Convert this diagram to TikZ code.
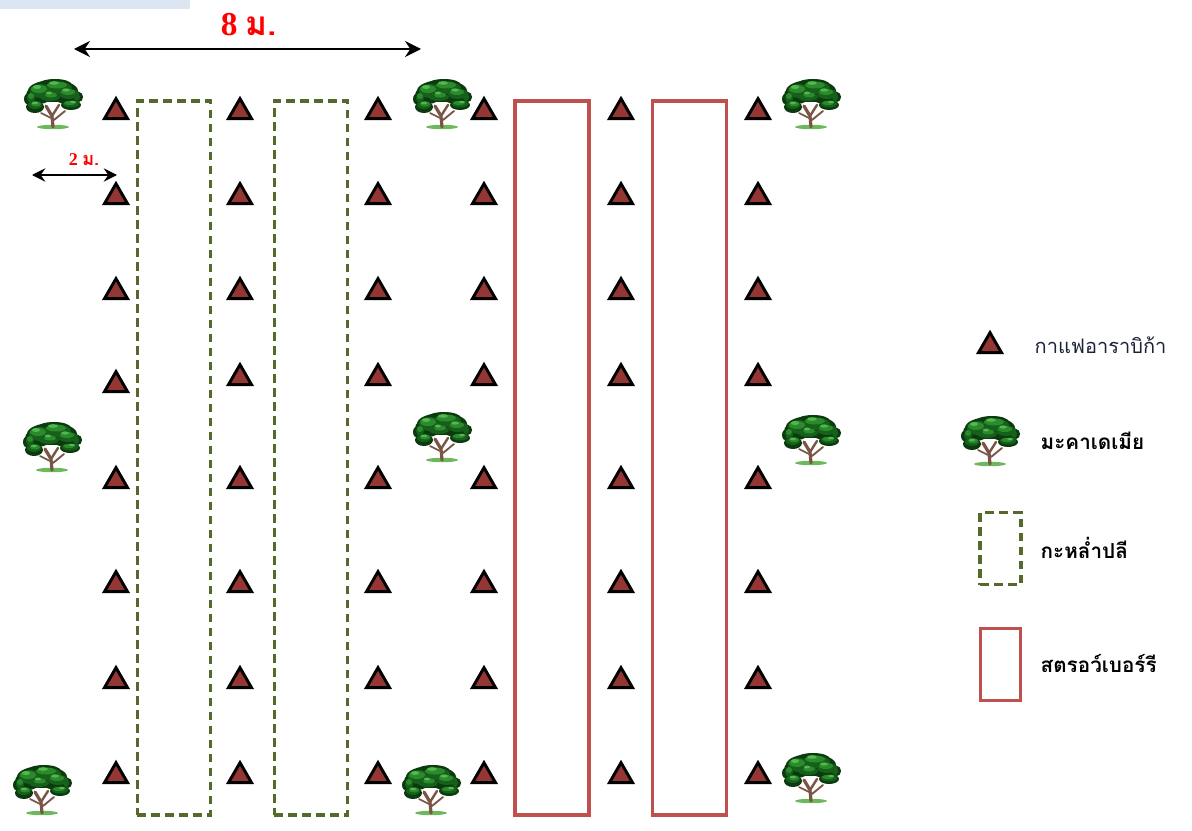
\documentclass[tikz,border=0pt]{standalone}
\usepackage{fontspec}
\setmainfont{Liberation Serif}
\newfontfamily\thaifont[Script=Thai]{Loma}
\usetikzlibrary{shapes.geometric,arrows.meta}
\definecolor{coffee}{HTML}{943634}
\definecolor{cabbage}{HTML}{55692C}
\definecolor{berry}{HTML}{C0504D}
\definecolor{band}{HTML}{DCE6F2}
\definecolor{leafshade}{HTML}{0B3A0E}
\definecolor{leafdark}{HTML}{17601B}
\definecolor{leafmid}{HTML}{2A8A2C}
\definecolor{leaflight}{HTML}{52B94E}
\definecolor{bark}{HTML}{7A5546}
\definecolor{grass}{HTML}{6DB85A}
\definecolor{navytext}{HTML}{1B2238}
\tikzset{
  x=0.75pt, y=-0.75pt,
  coffeeplant/.style={regular polygon, regular polygon sides=3, minimum size=20pt,
    inner sep=0pt, fill=coffee, draw=black, line width=2.2pt},
  cabbagebed/.style={draw=cabbage, line width=2.7pt, dash pattern=on 6.5pt off 4pt},
  berrybed/.style={draw=berry, line width=2.3pt},
  dimline/.style={line width=1.1pt, {Stealth[length=12pt,width=12pt,inset=4pt]}-{Stealth[length=12pt,width=12pt,inset=4pt]}},
  smalldim/.style={line width=1pt, {Stealth[length=10pt,width=10pt,inset=3.5pt]}-{Stealth[length=10pt,width=10pt,inset=3.5pt]}},
  legendtext/.style={anchor=west, font=\thaifont\fontsize{15.5}{18}\selectfont\bfseries},
  tree/.pic={
    % ground tuft
    \fill[grass] (0,24) ellipse [x radius=16, y radius=2.2];
    % trunk and branches
    \draw[bark, line width=2.4pt, line cap=round] (0,24) -- (-1,13) -- (-7,3);
    \draw[bark, line width=1.8pt, line cap=round] (-1,13) -- (6,2);
    \draw[bark, line width=1.4pt, line cap=round] (1,17) -- (12,8);
    \draw[bark, line width=1.2pt, line cap=round] (-2,15) -- (-12,10);
    % crown: shadow layer
    \foreach \cx/\cy/\rx/\ry in {0/-12/25/11, -14/-8/13/9, 14/-7/14/8, -18/4/9/6,
        18/2/10/5, 2/-18/17/6, -24/-4/5/6, 26/-6/4/5}
      \fill[leafshade] (\cx,\cy) ellipse [x radius=\rx, y radius=\ry];
    % crown: main foliage
    \foreach \cx/\cy/\rx/\ry in {-12/-12/11/7, 6/-15/13/6, 16/-9/10/5, -18/2/7/4,
        18/1/8/3.5, -3/-6/10/4, -22/-5/4/5, 24/-6/3/4}
      \fill[leafdark] (\cx,\cy) ellipse [x radius=\rx, y radius=\ry];
    \foreach \cx/\cy/\rx/\ry in {-14/-14/8/4, 4/-18/10/3.5, 15/-11/7/3, -17/1/5/2.5,
        17/0/6/2, -2/-8/6/2.5, -22/-7/3/3}
      \fill[leafmid] (\cx,\cy) ellipse [x radius=\rx, y radius=\ry];
    \foreach \cx/\cy/\rx/\ry in {-16/-16/4/2, 1/-20/5/1.8, 13/-13/4/1.6, -4/-10/3/1.4,
        -18/0/3/1.3, 20/-1/3/1.2}
      \fill[leaflight] (\cx,\cy) ellipse [x radius=\rx, y radius=\ry];
  }
}
\begin{document}
\begin{tikzpicture}
\useasboundingbox (0,0) rectangle (1192,831);
\fill[white] (0,0) rectangle (1192,831);
% title band
\fill[band] (0,0) rectangle (190,9);

% crop beds
\node[cabbagebed, minimum width=55pt, minimum height=535.5pt, inner sep=0pt] (cab1) at (174,458) {};
\node[cabbagebed, minimum width=55pt, minimum height=535.5pt, inner sep=0pt] (cab2) at (311,458) {};
\node[berrybed, minimum width=55.5pt, minimum height=535.5pt, inner sep=0pt] (ber1) at (552,458) {};
\node[berrybed, minimum width=56pt, minimum height=535.5pt, inner sep=0pt] (ber2) at (689.5,458) {};

% coffee rows
\foreach \c/\x in {1/116,2/240,3/378,4/484,5/621,6/758}{
  \foreach \r/\y in {1/112,2/197,3/292,4/378,5/481,6/585,7/681,8/776}{
    \pgfmathsetmacro{\yy}{(\c==1 && \r==4) ? 385 : \y}
    \node[coffeeplant] (cof-\c-\r) at (\x,\yy) {};
  }
}

% macadamia trees
\foreach \n/\px/\py in {a/53/103, b/442/103, c/811/103, d/52/446, e/442/436,
    f/811/439, g/42/789, h/431/789, i/811/777}
  \pic (mac-\n) at (\px,\py) {tree};

% dimensions
\coordinate (w8a) at (74,49);
\coordinate (w8b) at (421,49);
\draw[dimline] (w8a) -- (w8b);
\node[text=red, font=\fontsize{25}{28}\selectfont\bfseries] (lab8) at (249,25)
  {8 {\thaifont ม.}};
\coordinate (w2a) at (32,175);
\coordinate (w2b) at (117,175);
\draw[smalldim] (w2a) -- (w2b);
\node[text=red, font=\fontsize{13.5}{15}\selectfont\bfseries] (lab2) at (84,160)
  {2 {\thaifont ม.}};

% legend
\node[coffeeplant] (leg-cof) at (990,346) {};
\node[anchor=west, text=navytext, font=\thaifont\fontsize{15}{18}\selectfont] (leg-cof-t) at (1030,345) {กาแฟอาราบิก้า};
\pic (leg-mac) at (990,440) {tree};
\node[legendtext] (leg-mac-t) at (1036,441) {มะคาเดเมีย};
\node[cabbagebed, minimum width=30.5pt, minimum height=54pt, inner sep=0pt] (leg-cab) at (1000.5,548.5) {};
\node[legendtext] (leg-cab-t) at (1036,548) {กะหล่ำปลี};
\node[berrybed, minimum width=30.5pt, minimum height=54pt, inner sep=0pt] (leg-ber) at (1000.5,664.5) {};
\node[legendtext] (leg-ber-t) at (1036,663) {สตรอว์เบอร์รี};
\end{tikzpicture}
\end{document}
